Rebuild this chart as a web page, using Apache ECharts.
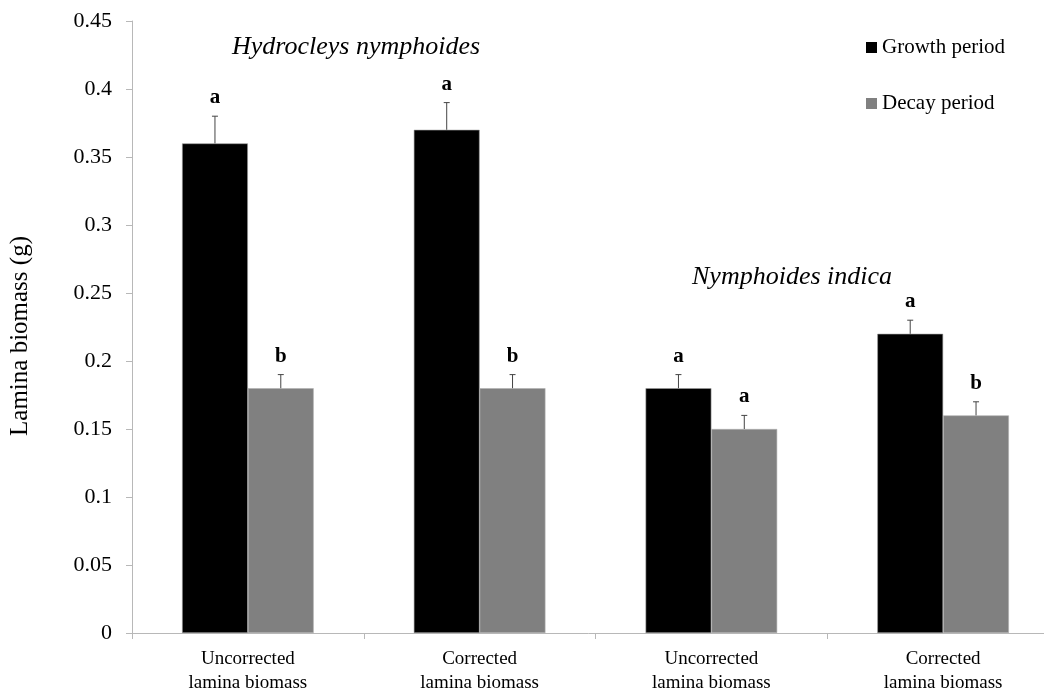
<!DOCTYPE html>
<html>
<head>
<meta charset="utf-8">
<script src="https://cdn.jsdelivr.net/npm/echarts@6/dist/echarts.min.js"></script>
<style>
  html, body { margin: 0; padding: 0; background: #fff; }
  #chart { width: 1044px; height: 689px; }
</style>
</head>
<body>
<div id="chart"></div>
<script>
// Lamina biomass by estimation method, two species, growth vs decay period
const categories = [
  'Uncorrected\nlamina biomass',
  'Corrected\nlamina biomass',
  'Uncorrected\nlamina biomass',
  'Corrected\nlamina biomass'
];
const growth = [0.36, 0.37, 0.18, 0.22];
const growthErr = [0.02, 0.02, 0.01, 0.01];
const growthLetters = ['a', 'a', 'a', 'a'];
const decay = [0.18, 0.18, 0.15, 0.16];
const decayErr = [0.01, 0.01, 0.01, 0.01];
const decayLetters = ['b', 'b', 'a', 'b'];
const yTicks = { min: 0, max: 0.45, interval: 0.05 };
const yTitle = 'Lamina biomass (g)';
const speciesTitles = ['Hydrocleys nymphoides', 'Nymphoides indica'];

const SERIF = '"Liberation Serif", "DejaVu Serif", serif';
const BAR_FRAC = 0.284; // bar width as share of category band

// error whisker plus significance letter above each bar
function errorRenderer(values, errs, letters, side) {
  return function (params, api) {
    const i = params.dataIndex;
    const band = api.size([1, 0])[0];
    const cx = api.coord([i, 0])[0] + side * band * BAR_FRAC / 2;
    const yBase = api.coord([i, values[i]])[1];
    const yTop = api.coord([i, values[i] + errs[i]])[1];
    const stroke = { stroke: '#444', lineWidth: 1 };
    return {
      type: 'group',
      children: [
        { type: 'line', shape: { x1: cx, y1: yBase, x2: cx, y2: yTop }, style: stroke },
        { type: 'line', shape: { x1: cx - 3, y1: yTop, x2: cx + 3, y2: yTop }, style: stroke },
        {
          type: 'text',
          style: {
            text: letters[i], x: cx, y: yTop - 8,
            align: 'center', verticalAlign: 'bottom',
            font: 'bold 21px ' + SERIF, fill: '#000'
          }
        }
      ]
    };
  };
}

const chart = echarts.init(document.getElementById('chart'), null, { renderer: 'canvas' });
chart.setOption({
  animation: false,
  backgroundColor: '#fff',
  grid: { left: 132, top: 21, width: 927, height: 612, outerBoundsMode: 'none', containLabel: false },
  legend: {
    orient: 'vertical',
    left: 861, top: 32,
    itemWidth: 11, itemHeight: 11, itemGap: 35,
    icon: 'rect',
    itemStyle: { borderWidth: 0 },
    textStyle: { fontFamily: SERIF, fontSize: 21, color: '#000' },
    data: ['Growth period', 'Decay period']
  },
  xAxis: {
    type: 'category',
    data: categories,
    boundaryGap: true,
    axisLine: { lineStyle: { color: '#b8b8b8', width: 1 } },
    axisTick: { show: true, length: 6, lineStyle: { color: '#b8b8b8' } },
    axisLabel: {
      interval: 0, margin: 14,
      fontFamily: SERIF, fontSize: 19, color: '#000', lineHeight: 24
    }
  },
  yAxis: {
    type: 'value',
    min: yTicks.min, max: yTicks.max, interval: yTicks.interval,
    axisLine: { show: true, lineStyle: { color: '#b8b8b8', width: 1 } },
    axisTick: { show: true, length: 6, lineStyle: { color: '#b8b8b8' } },
    splitLine: { show: false },
    axisLabel: {
      margin: 20,
      fontFamily: SERIF, fontSize: 22, color: '#000',
      formatter: v => String(+v.toFixed(2))
    }
  },
  graphic: [
    {
      type: 'text', x: 20, y: 336, rotation: Math.PI / 2,
      style: {
        text: yTitle, x: 0, y: 0, align: 'center', verticalAlign: 'middle',
        font: '25px ' + SERIF, fill: '#000'
      }
    },
    {
      type: 'text', left: 232, top: 34,
      style: { text: speciesTitles[0], font: 'italic 26px ' + SERIF, fill: '#000' }
    },
    {
      type: 'text', left: 692, top: 264,
      style: { text: speciesTitles[1], font: 'italic 26px ' + SERIF, fill: '#000' }
    }
  ],
  series: [
    {
      name: 'Growth period', type: 'bar', data: growth,
      barWidth: (BAR_FRAC * 100) + '%', barGap: '0%',
      itemStyle: { color: '#000', borderColor: '#9a9a9a', borderWidth: 0.6 }
    },
    {
      name: 'Decay period', type: 'bar', data: decay,
      barWidth: (BAR_FRAC * 100) + '%', barGap: '0%',
      itemStyle: { color: '#808080', borderColor: '#b0b0b0', borderWidth: 0.6 }
    },
    {
      type: 'custom', data: growth.map((v, i) => [i, v + growthErr[i]]),
      renderItem: errorRenderer(growth, growthErr, growthLetters, -1), z: 5
    },
    {
      type: 'custom', data: decay.map((v, i) => [i, v + decayErr[i]]),
      renderItem: errorRenderer(decay, decayErr, decayLetters, 1), z: 5
    }
  ]
});
</script>
</body>
</html>
